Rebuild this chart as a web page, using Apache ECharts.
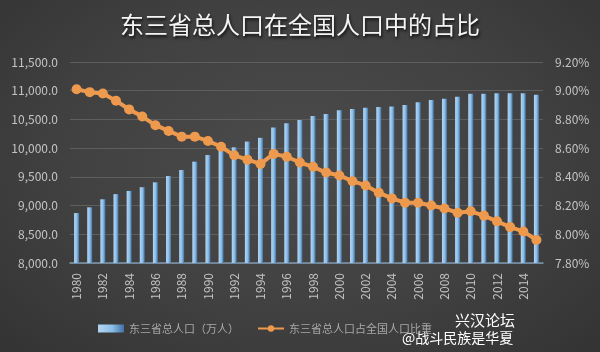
<!DOCTYPE html>
<html>
<head>
<meta charset="utf-8">
<script src="https://cdn.jsdelivr.net/npm/echarts@6/dist/echarts.min.js"></script>
<style>
  html, body { margin: 0; padding: 0; }
  body {
    width: 600px; height: 352px;
    background: radial-gradient(ellipse at 50% 45%, #4b4b4b 0%, #414141 55%, #333333 100%);
  }
  #chart { width: 600px; height: 352px; }
</style>
</head>
<body>
<div id="chart"></div>
<script>
// years 1980-2015
const years = [];
for (let y = 1980; y <= 2015; y++) years.push(String(y));

// total population of the three NE provinces (10k people)
const population = [
  8870, 8970, 9110, 9200, 9255, 9320, 9405, 9515, 9620, 9765,
  9880, 9960, 10015, 10115, 10180, 10360, 10435, 10490, 10560, 10595,
  10660, 10680, 10705, 10715, 10725, 10750, 10800, 10840, 10860, 10895,
  10945, 10945, 10958, 10958, 10958, 10930
];

// share of national population (%)
const share = [
  9.01, 8.99, 8.98, 8.93, 8.87, 8.82, 8.76, 8.72, 8.68, 8.68,
  8.65, 8.61, 8.55, 8.52, 8.49, 8.56, 8.54, 8.50, 8.47, 8.43,
  8.41, 8.37, 8.34, 8.29, 8.25, 8.22, 8.22, 8.20, 8.18, 8.15,
  8.16, 8.13, 8.09, 8.05, 8.02, 7.96
];

const seriesNames = ['东三省总人口（万人）', '东三省总人口占全国人口比重'];

const chart = echarts.init(document.getElementById('chart'));

const labelColor = '#c4c4c4';
const font = '"Noto Sans CJK SC", "Noto Sans", sans-serif';

const option = {
  backgroundColor: 'transparent',
  textStyle: { fontFamily: font },
  title: {
    text: '东三省总人口在全国人口中的占比',
    left: 'center',
    top: 8,
    textStyle: {
      color: '#f4f4f4',
      fontSize: 24,
      fontWeight: 'normal',
      fontFamily: font,
      textShadowColor: 'rgba(0,0,0,0.8)',
      textShadowBlur: 3,
      textShadowOffsetX: 1,
      textShadowOffsetY: 2
    }
  },
  legend: {
    left: 93,
    top: 318,
    itemGap: 18,
    itemWidth: 26,
    itemHeight: 8,
    textStyle: { color: '#a8a8a8', fontSize: 11, fontFamily: font },
    data: [
      { name: seriesNames[0], icon: 'rect' },
      { name: seriesNames[1] }
    ]
  },
  grid: { left: 70, right: 57, top: 62, bottom: 89 },
  xAxis: {
    type: 'category',
    data: years,
    boundaryGap: true,
    axisLine: { lineStyle: { color: '#7f98b0', width: 1.5 } },
    axisTick: { show: false },
    axisLabel: {
      color: labelColor,
      fontSize: 12,
      rotate: 90,
      interval: 1,
      margin: 10,
      fontFamily: font
    }
  },
  yAxis: [
    {
      type: 'value',
      min: 8000,
      max: 11500,
      interval: 500,
      axisLine: { show: false },
      axisTick: { show: false },
      splitLine: { lineStyle: { color: '#5e5e5e', width: 1 } },
      axisLabel: {
        color: labelColor,
        fontSize: 12,
        margin: 12,
        fontFamily: font,
        formatter: v => v.toLocaleString('en-US', { minimumFractionDigits: 1, maximumFractionDigits: 1 })
      }
    },
    {
      type: 'value',
      min: 7.8,
      max: 9.2,
      interval: 0.2,
      axisLine: { show: false },
      axisTick: { show: false },
      splitLine: { show: false },
      axisLabel: {
        color: labelColor,
        fontSize: 12,
        margin: 12,
        fontFamily: font,
        formatter: v => v.toFixed(2) + '%'
      }
    }
  ],
  series: [
    {
      name: seriesNames[0],
      type: 'bar',
      yAxisIndex: 0,
      barWidth: 5,
      data: population,
      itemStyle: {
        color: new echarts.graphic.LinearGradient(0, 0, 1, 0, [
          { offset: 0, color: '#b3d6f2' },
          { offset: 0.55, color: '#8cbde6' },
          { offset: 1, color: '#3f72a6' }
        ])
      }
    },
    {
      name: seriesNames[1],
      type: 'line',
      yAxisIndex: 1,
      data: share,
      symbol: 'circle',
      symbolSize: 10,
      showAllSymbol: true,
      lineStyle: { color: '#ee9a4e', width: 4 },
      itemStyle: { color: '#ee9a4e' },
      z: 5
    }
  ],
  graphic: [
    {
      type: 'text',
      left: 455,
      top: 313,
      style: { text: '兴汉论坛', fill: '#ffffff', fontSize: 15, fontFamily: font }
    },
    {
      type: 'text',
      left: 402,
      top: 331,
      style: { text: '@战斗民族是华夏', fill: '#ffffff', fontSize: 14, fontFamily: font }
    }
  ]
};

chart.setOption(option);
</script>
</body>
</html>
